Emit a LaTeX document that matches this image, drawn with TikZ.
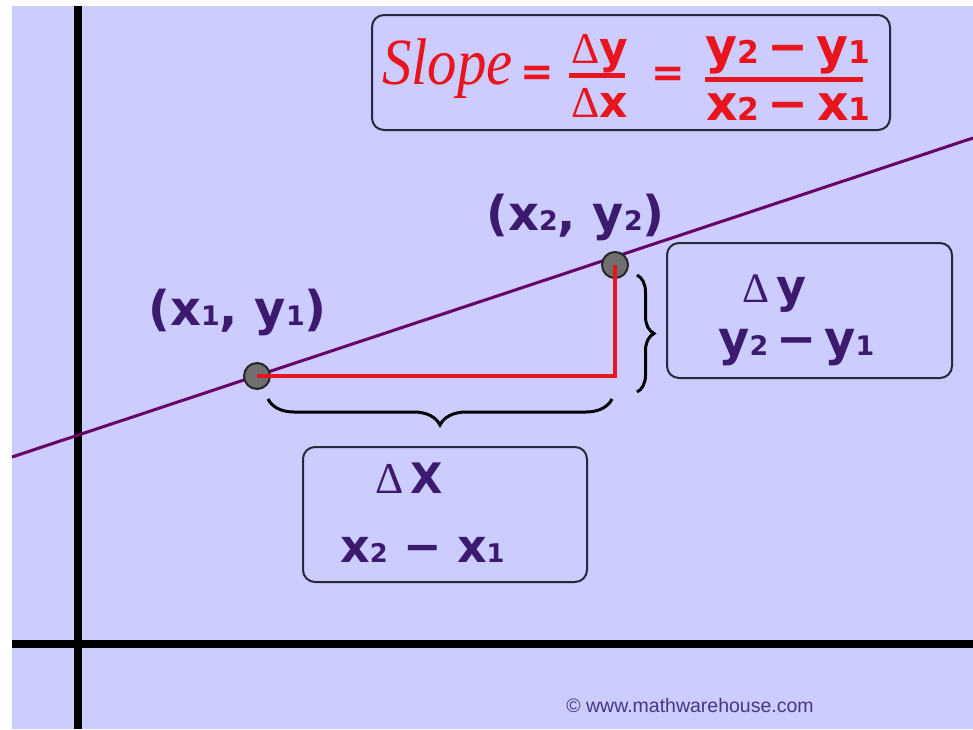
\documentclass[tikz,border=0pt]{standalone}
\usepackage{fontspec}
\usepackage{graphicx}
\usetikzlibrary{decorations.pathreplacing}
\newfontfamily\dvs{DejaVu Sans}
\newfontfamily\lsr{Liberation Serif}
\newfontfamily\lss{Liberation Sans}
\newcommand\sbd[1]{\scalebox{0.56}{#1}}
\newcommand\sbf[1]{\scalebox{0.64}{#1}}
\definecolor{bgc}{RGB}{204,204,255}
\definecolor{tpur}{RGB}{60,26,110}
\definecolor{rd}{RGB}{232,20,30}
\definecolor{lpur}{RGB}{102,0,102}
\definecolor{bdr}{RGB}{40,40,60}
\definecolor{ptg}{RGB}{112,112,112}
\definecolor{cpy}{RGB}{70,55,130}
\begin{document}
\begin{tikzpicture}[x=1pt,y=-1pt,
  lbl/.style={text=tpur,font=\dvs\bfseries\fontsize{48}{48}\selectfont,inner sep=0pt,anchor=base west},
  fml/.style={text=rd,font=\dvs\bfseries\fontsize{49}{49}\selectfont,inner sep=0pt,anchor=base west},
  infobox/.style={draw=bdr,line width=2pt,rounded corners=12pt,inner sep=0pt},
  ptdot/.style={circle,fill=ptg,draw=black!85,line width=2pt,minimum size=26pt,inner sep=0pt},
  axis/.style={line width=8.5pt,black},
  bracestyle/.style={decorate,decoration={brace,amplitude=#1},line width=3pt,black}
]
\useasboundingbox (0,0) rectangle (973,729);
\fill[white] (0,0) rectangle (973,729);
\fill[bgc] (12,6) rectangle (973,729);
% axes
\coordinate (vt) at (78,6);
\coordinate (vb) at (78,729);
\coordinate (hl) at (12,644);
\coordinate (hr) at (973,644);
\draw[axis] (vt) -- (vb);
\draw[axis] (hl) -- (hr);
% boxes
\node[infobox,minimum width=518pt,minimum height=115pt] (fbox) at (631,72.5) {};
\node[infobox,minimum width=285pt,minimum height=135pt] (dybox) at (809.5,310.5) {};
\node[infobox,minimum width=284pt,minimum height=135pt] (dxbox) at (445,514.5) {};
% line
\coordinate (L1) at (12,457);
\coordinate (L2) at (973,138);
\draw[lpur,line width=3pt] (L1) -- (L2);
% points
\node[ptdot] (p1) at (257,376) {};
\node[ptdot] (p2) at (615,265) {};
\coordinate (cn) at (615,376);
\draw[rd,line width=4pt] (p1.center) -- (cn) -- (p2.center);
% braces
\coordinate (b1a) at (612,399);
\coordinate (b1b) at (268,399);
\draw[bracestyle=26pt] (b1a) -- (b1b);
\coordinate (b2a) at (637,275);
\coordinate (b2b) at (637,392);
\draw[bracestyle=17pt] (b2a) -- (b2b);
% point labels
\node[lbl] (l1) at (148,325) {(x\sbd{1}, y\sbd{1})};
\node[lbl] (l2) at (486,230) {(x\sbd{2}, y\sbd{2})};
% dy box text
\node[lbl,font=\dvs\bfseries\fontsize{46}{46}\selectfont] (dy1) at (742,302) {{\lsr\mdseries\fontsize{42}{42}\selectfont Δ}\,y};
\node[lbl,font=\dvs\bfseries\fontsize{48}{48}\selectfont] (dy2) at (718,355) {y\sbd{2}\,−\,y\sbd{1}};
% dx box text
\node[lbl,font=\dvs\bfseries\fontsize{42}{42}\selectfont] (dx1) at (375,493) {{\lsr\mdseries\fontsize{44}{44}\selectfont Δ}\,X};
\node[lbl,font=\dvs\bfseries\fontsize{46}{46}\selectfont] (dx2) at (340,562) {x\sbd{2}\,\,−\,\,x\sbd{1}};
% formula
\node[text=rd,font=\lsr\itshape\fontsize{60}{60}\selectfont,inner sep=0pt,anchor=base west] (slope) at (382,84) {\scalebox{0.98}[1.1]{Slope}};
\node[text=rd,font=\dvs\bfseries\fontsize{40}{40}\selectfont,inner sep=0pt] (eq1) at (537,76) {=};
\node[fml,font=\dvs\bfseries\fontsize{44}{44}\selectfont] (n1) at (571,63) {{\lsr\mdseries Δ}y};
\node[fml,font=\dvs\bfseries\fontsize{44}{44}\selectfont] (d1) at (571,117) {{\lsr\mdseries Δ}x};
\fill[rd] (569,73) rectangle (625,78);
\node[text=rd,font=\dvs\bfseries\fontsize{40}{40}\selectfont,inner sep=0pt] (eq2) at (668,77) {=};
\node[fml] (n2) at (705,63) {y\sbf{2}\,−\,y\sbf{1}};
\node[fml] (d2) at (706,120) {x\sbf{2}\,−\,x\sbf{1}};
\fill[rd] (705,77) rectangle (863,82);
% copyright
\node[text=cpy,font=\lss\fontsize{19.5}{19.5}\selectfont,inner sep=0pt] (cp) at (690,706) {© www.mathwarehouse.com};
\end{tikzpicture}
\end{document}
